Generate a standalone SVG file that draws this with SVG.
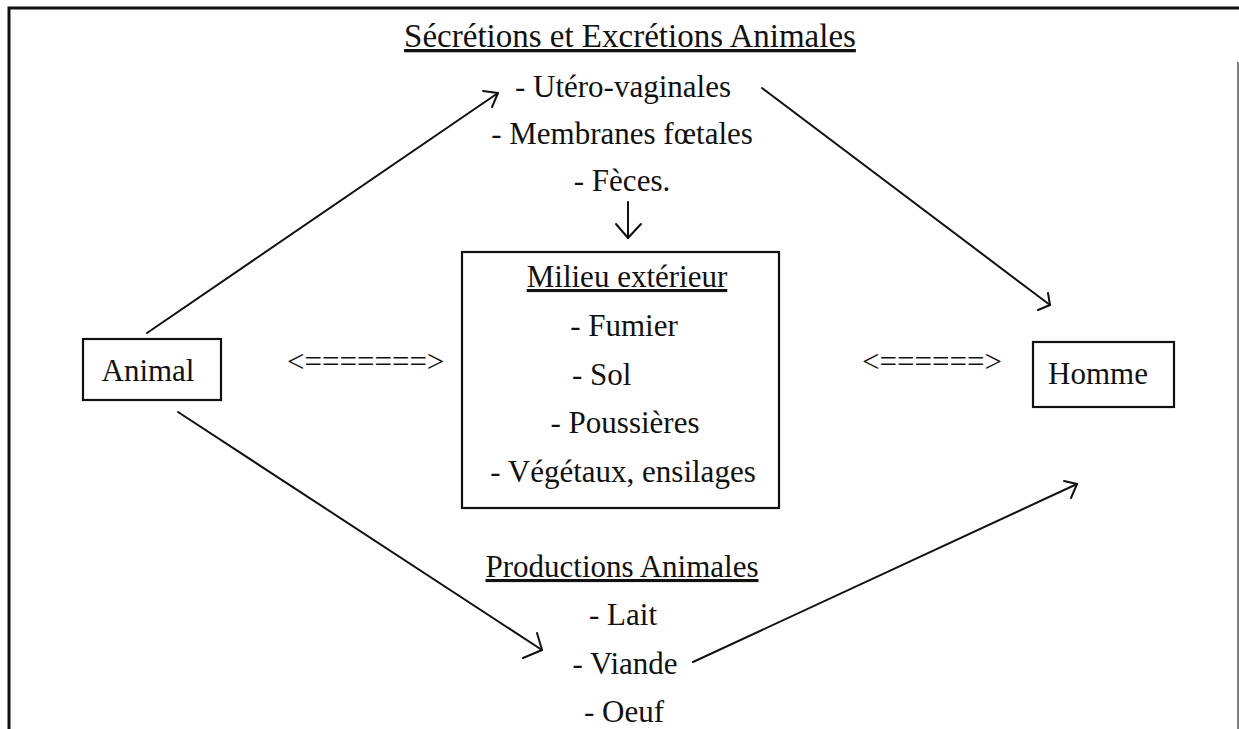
<svg xmlns="http://www.w3.org/2000/svg" width="1239" height="729" viewBox="0 0 1239 729">
  <style>
    text { font-family: "Liberation Serif", "Times New Roman", serif; font-size: 31px; fill: #111; }
    .c { text-anchor: middle; }
    .u { text-decoration: underline; }
    .title { font-size: 33px; }
    .box { fill: none; stroke: #111; stroke-width: 2.2; }
    .frame { fill: none; stroke: #111; stroke-width: 3; }
    .edge { fill: none; stroke: #111; stroke-width: 2; stroke-linecap: round; stroke-linejoin: round; }
  </style>

  <!-- page frame -->
  <g id="frame">
    <path class="frame" d="M9,729 V8 H1239"/>
    <path d="M1238,62 V729" fill="none" stroke="#555" stroke-width="1.5"/>
  </g>

  <!-- secretions / excretions -->
  <g id="secretions">
    <text class="c u title" x="630" y="47">Sécrétions et Excrétions Animales</text>
    <text class="c" x="623" y="97">- Utéro-vaginales</text>
    <text class="c" x="622" y="144">- Membranes fœtales</text>
    <text class="c" x="622" y="191">- Fèces.</text>
  </g>

  <!-- outside environment -->
  <g id="milieu">
    <rect class="box" x="462" y="252" width="317" height="256"/>
    <text class="c u" x="627" y="287">Milieu extérieur</text>
    <text class="c" x="624" y="336">- Fumier</text>
    <text x="572" y="385">- Sol</text>
    <text class="c" x="625" y="433">- Poussières</text>
    <text class="c" x="623" y="482">- Végétaux, ensilages</text>
  </g>

  <!-- animal -->
  <g id="animal">
    <rect class="box" x="83" y="339" width="138" height="61"/>
    <text class="c" x="148" y="381">Animal</text>
  </g>

  <!-- human -->
  <g id="homme">
    <rect class="box" x="1033" y="342" width="141" height="65"/>
    <text class="c" x="1098" y="384">Homme</text>
  </g>

  <!-- animal products -->
  <g id="productions">
    <text class="c u" x="622" y="577">Productions Animales</text>
    <text class="c" x="623" y="625">- Lait</text>
    <text class="c" x="625" y="674">- Viande</text>
    <text class="c" x="624" y="722">- Oeuf</text>
  </g>

  <!-- two-way exchanges -->
  <g id="exchanges">
    <text x="287" y="372">&lt;=======&gt;</text>
    <text x="862" y="372">&lt;======&gt;</text>
  </g>

  <!-- connectors -->
  <g id="connectors">
    <!-- animal to secretions -->
    <path class="edge" d="M147,333 L498,93"/>
    <path class="edge" d="M483,91 L498,93 L492,107"/>
    <!-- secretions to human -->
    <path class="edge" d="M762,88 L1050,305"/>
    <path class="edge" d="M1048,293 L1050,305 L1038,310"/>
    <!-- faeces to environment -->
    <path class="edge" d="M628,202 V238"/>
    <path class="edge" d="M616,224 L628,238 L641,224"/>
    <!-- animal to products -->
    <path class="edge" d="M178,412 L542,650"/>
    <path class="edge" d="M537,633 L542,650 L523,658"/>
    <!-- products to human -->
    <path class="edge" d="M693,662 L1077,484"/>
    <path class="edge" d="M1064,481 L1077,484 L1071,498"/>
  </g>
</svg>
